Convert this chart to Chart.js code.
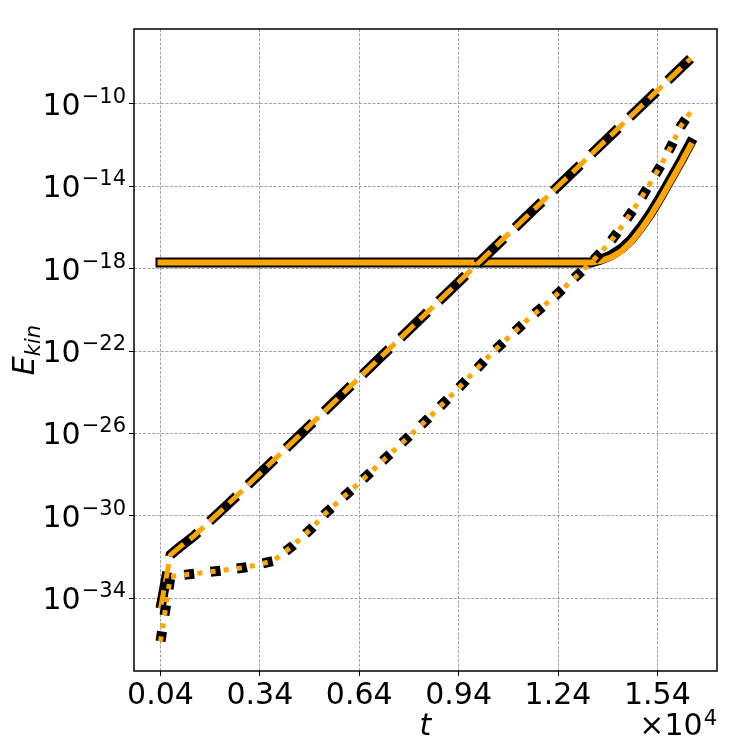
<!DOCTYPE html>
<html>
<head>
<meta charset="utf-8">
<script src="https://cdn.jsdelivr.net/npm/chart.js@4/dist/chart.umd.min.js"></script>
<style>
  html, body { margin: 0; padding: 0; background: #fff; }
</style>
</head>
<body>
<canvas id="chart" width="747" height="747"></canvas>
<script>
'use strict';

// time (x 10^4) and kinetic energy
var tSolid = [0.04, 0.14, 0.24, 0.34, 0.44, 0.54, 0.64, 0.74, 0.84, 0.94, 1.04, 1.14, 1.24, 1.34,
              1.37, 1.40, 1.43, 1.46, 1.49, 1.52, 1.55, 1.58, 1.61, 1.64];
var eSolidBlack = [2.0e-18, 2.0e-18, 2.0e-18, 2.0e-18, 2.0e-18, 2.0e-18, 2.0e-18, 2.0e-18, 2.0e-18, 2.0e-18,
                   2.0e-18, 2.0e-18, 2.0e-18, 2.0e-18, 2.82e-18, 4.47e-18, 8.91e-18, 2.51e-17, 1.0e-16,
                   5.01e-16, 3.16e-15, 2.24e-14, 1.58e-13, 1.26e-12];
var eSolidOrange = [2.0e-18, 2.0e-18, 2.0e-18, 2.0e-18, 2.0e-18, 2.0e-18, 2.0e-18, 2.0e-18, 2.0e-18, 2.0e-18,
                    2.0e-18, 2.0e-18, 2.0e-18, 2.0e-18, 2.40e-18, 3.55e-18, 6.76e-18, 1.91e-17, 7.59e-17,
                    3.80e-16, 2.40e-15, 1.70e-14, 1.20e-13, 9.55e-13];

var tDashed = [0.04, 0.07, 0.10, 0.14, 0.24, 0.34, 0.44, 0.54, 0.64, 0.74, 0.84, 0.94, 1.04, 1.14,
               1.24, 1.34, 1.44, 1.54, 1.64];
var eDashed = [3.16e-35, 1.26e-32, 3.16e-32, 1.0e-31, 3.16e-30, 1.12e-28, 3.98e-27, 1.41e-25, 5.01e-24,
               1.78e-22, 6.31e-21, 2.24e-19, 7.94e-18, 2.82e-16, 1.0e-14, 3.55e-13, 1.26e-11, 4.47e-10, 1.58e-8];

var tDotted = [0.04, 0.07, 0.14, 0.22, 0.30, 0.38, 0.44, 0.50, 0.54, 0.64, 0.74, 0.84, 0.94, 1.04,
               1.14, 1.24, 1.34, 1.37, 1.40, 1.43, 1.46, 1.49, 1.52, 1.55, 1.58, 1.61, 1.64];
var eDotted = [7.94e-37, 1.12e-33, 1.51e-33, 2.14e-33, 3.16e-33, 6.31e-33, 3.55e-32, 2.82e-31, 1.41e-30,
               3.98e-29, 1.26e-27, 3.98e-26, 1.58e-24, 7.94e-23, 2.51e-21, 6.31e-20, 2.0e-18, 6.31e-18,
               2.24e-17, 1.0e-16, 5.01e-16, 2.51e-15, 1.58e-14, 1.0e-13, 7.94e-13, 7.94e-12, 3.98e-11];

var xTicks = [0.04, 0.34, 0.64, 0.94, 1.24, 1.54];
var yExponents = [-34, -30, -26, -22, -18, -14, -10];

var ORANGE = '#ffa500';
var FONT = '"DejaVu Sans"';

function pts(ts, es) {
  return ts.map(function (t, i) { return {x: t, y: es[i]}; });
}

function line(data, color, width, dash, cap, order) {
  return {
    data: data,
    borderColor: color,
    borderWidth: width,
    borderDash: dash,
    borderCapStyle: cap,
    borderJoinStyle: 'round',
    pointRadius: 0,
    fill: false,
    tension: 0,
    order: order
  };
}

// labels with super/subscripts and the axes frame
var decorations = {
  id: 'decorations',
  afterDraw: function (chart) {
    var ctx = chart.ctx,
        area = chart.chartArea,
        ys = chart.scales.y;

    ctx.save();
    ctx.fillStyle = '#000';
    ctx.textBaseline = 'alphabetic';

    // y tick labels 10^-n
    ctx.textAlign = 'right';
    yExponents.forEach(function (e) {
      var py = ys.getPixelForValue(Math.pow(10, e));
      var sup = '\u2212' + Math.abs(e);
      ctx.font = '21px ' + FONT;
      var w = ctx.measureText(sup).width;
      ctx.fillText(sup, area.left - 8, py - 1);
      ctx.font = '30px ' + FONT;
      ctx.fillText('10', area.left - 8 - w - 1, py + 11);
    });

    // x offset text  x10^4
    ctx.font = '21px ' + FONT;
    var w4 = ctx.measureText('4').width;
    ctx.fillText('4', area.right, 725);
    ctx.font = '30px ' + FONT;
    ctx.fillText('\u00d710', area.right - w4 - 1, 735);

    // x title
    ctx.textAlign = 'center';
    ctx.font = 'italic 30px ' + FONT;
    ctx.fillText('t', (area.left + area.right) / 2, 735);

    // y title E_kin
    ctx.translate(34, (area.top + area.bottom) / 2);
    ctx.rotate(-Math.PI / 2);
    ctx.textAlign = 'left';
    ctx.font = 'italic 30px ' + FONT;
    var wE = ctx.measureText('E').width;
    ctx.font = 'italic 21px ' + FONT;
    var wK = ctx.measureText('kin').width;
    var x0 = -(wE + wK) / 2;
    ctx.font = 'italic 30px ' + FONT;
    ctx.fillText('E', x0, 0);
    ctx.font = 'italic 21px ' + FONT;
    ctx.fillText('kin', x0 + wE, 6);
    ctx.restore();

    // frame
    ctx.save();
    ctx.strokeStyle = '#000';
    ctx.lineWidth = 1.5;
    ctx.strokeRect(area.left, area.top, area.right - area.left, area.bottom - area.top);
    ctx.restore();
  }
};

var gridOpts = {
  color: '#8c8c8c',
  lineWidth: 0.8,
  drawTicks: true,
  tickLength: 5,
  tickColor: '#000',
  tickWidth: 1
};

var chart = new Chart(document.getElementById('chart').getContext('2d'), {
  type: 'line',
  data: {
    datasets: [
      line(pts(tSolid, eSolidBlack), '#000', 10, [], 'square', 6),
      line(pts(tSolid, eSolidOrange), ORANGE, 6, [], 'square', 5),
      line(pts(tDashed, eDashed), '#000', 10, [37, 16], 'butt', 4),
      line(pts(tDashed, eDashed), ORANGE, 5, [18.5, 8], 'butt', 3),
      line(pts(tDotted, eDotted), '#000', 10, [10, 16.5], 'butt', 2),
      line(pts(tDotted, eDotted), ORANGE, 5, [5, 8.25], 'butt', 1)
    ]
  },
  options: {
    responsive: false,
    devicePixelRatio: 1,
    animation: false,
    layout: { padding: { top: 29, right: 30, bottom: 0, left: 0 } },
    plugins: {
      legend: { display: false },
      tooltip: { enabled: false }
    },
    scales: {
      x: {
        type: 'linear',
        min: -0.04,
        max: 1.72,
        grid: gridOpts,
        border: { display: false, dash: [3, 1.5] },
        ticks: {
          autoSkip: false,
          maxRotation: 0,
          padding: 2,
          color: '#000',
          font: { family: 'DejaVu Sans', size: 30 },
          callback: function (v) { return v.toFixed(2); }
        },
        afterBuildTicks: function (s) {
          s.ticks = xTicks.map(function (v) { return {value: v}; });
        },
        afterFit: function (s) { s.height = 76; }
      },
      y: {
        type: 'logarithmic',
        min: 2.88e-38,
        max: 4.37e-7,
        grid: gridOpts,
        border: { display: false, dash: [3, 1.5] },
        ticks: {
          callback: function () { return ''; }
        },
        afterBuildTicks: function (s) {
          s.ticks = yExponents.map(function (e) { return {value: Math.pow(10, e)}; });
        },
        afterFit: function (s) { s.width = 134; }
      }
    }
  },
  plugins: [decorations]
});
</script>
</body>
</html>
